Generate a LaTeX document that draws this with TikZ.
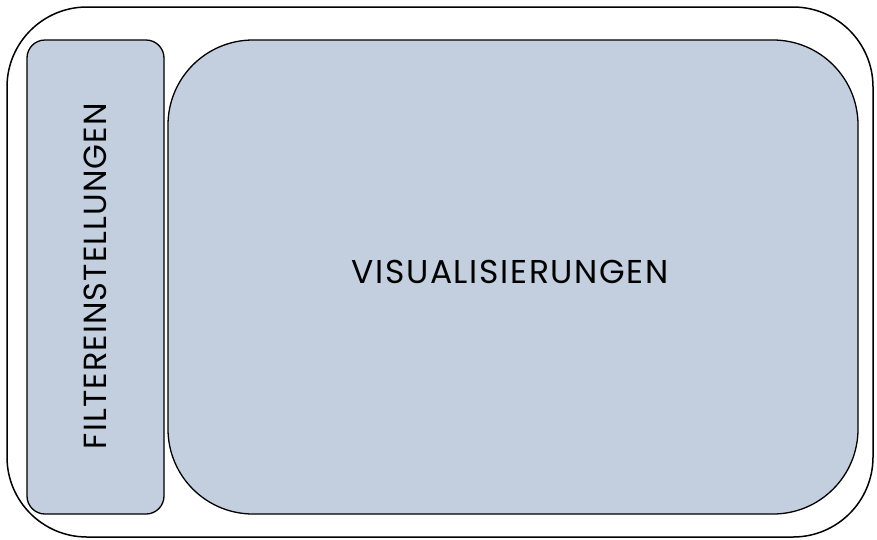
\documentclass[tikz,border=0pt]{standalone}
\usepackage{fontspec}
\setmainfont{Poppins}
\newfontfamily\lblfont[LetterSpace=5]{Poppins}
\newfontfamily\vlblfont[LetterSpace=3.5]{Poppins}
\definecolor{boxfill}{RGB}{195,207,223}
\begin{document}
\begin{tikzpicture}[x=1pt,y=-1pt,
  frame/.style={draw=black,line width=1.5pt},
  panel/.style={draw=black,line width=1.3pt,fill=boxfill},
  lbl/.style={font=\lblfont\fontsize{33}{38}\selectfont,inner sep=0pt},
  vlbl/.style={font=\vlblfont\fontsize{32}{38}\selectfont,inner sep=0pt}]
\useasboundingbox (0,0) rectangle (877,539);
\draw[frame,rounded corners=80pt] (7,7) rectangle (873,537);
\draw[panel,rounded corners=18pt] (27,40) rectangle (164,514);
\draw[panel,rounded corners=85pt] (168,40) rectangle (858,514);
\node[vlbl,rotate=90] (filt) at (95,276) {FILTEREINSTELLUNGEN};
\node[lbl] (vis) at (510,272) {VISUALISIERUNGEN};
\end{tikzpicture}
\end{document}
